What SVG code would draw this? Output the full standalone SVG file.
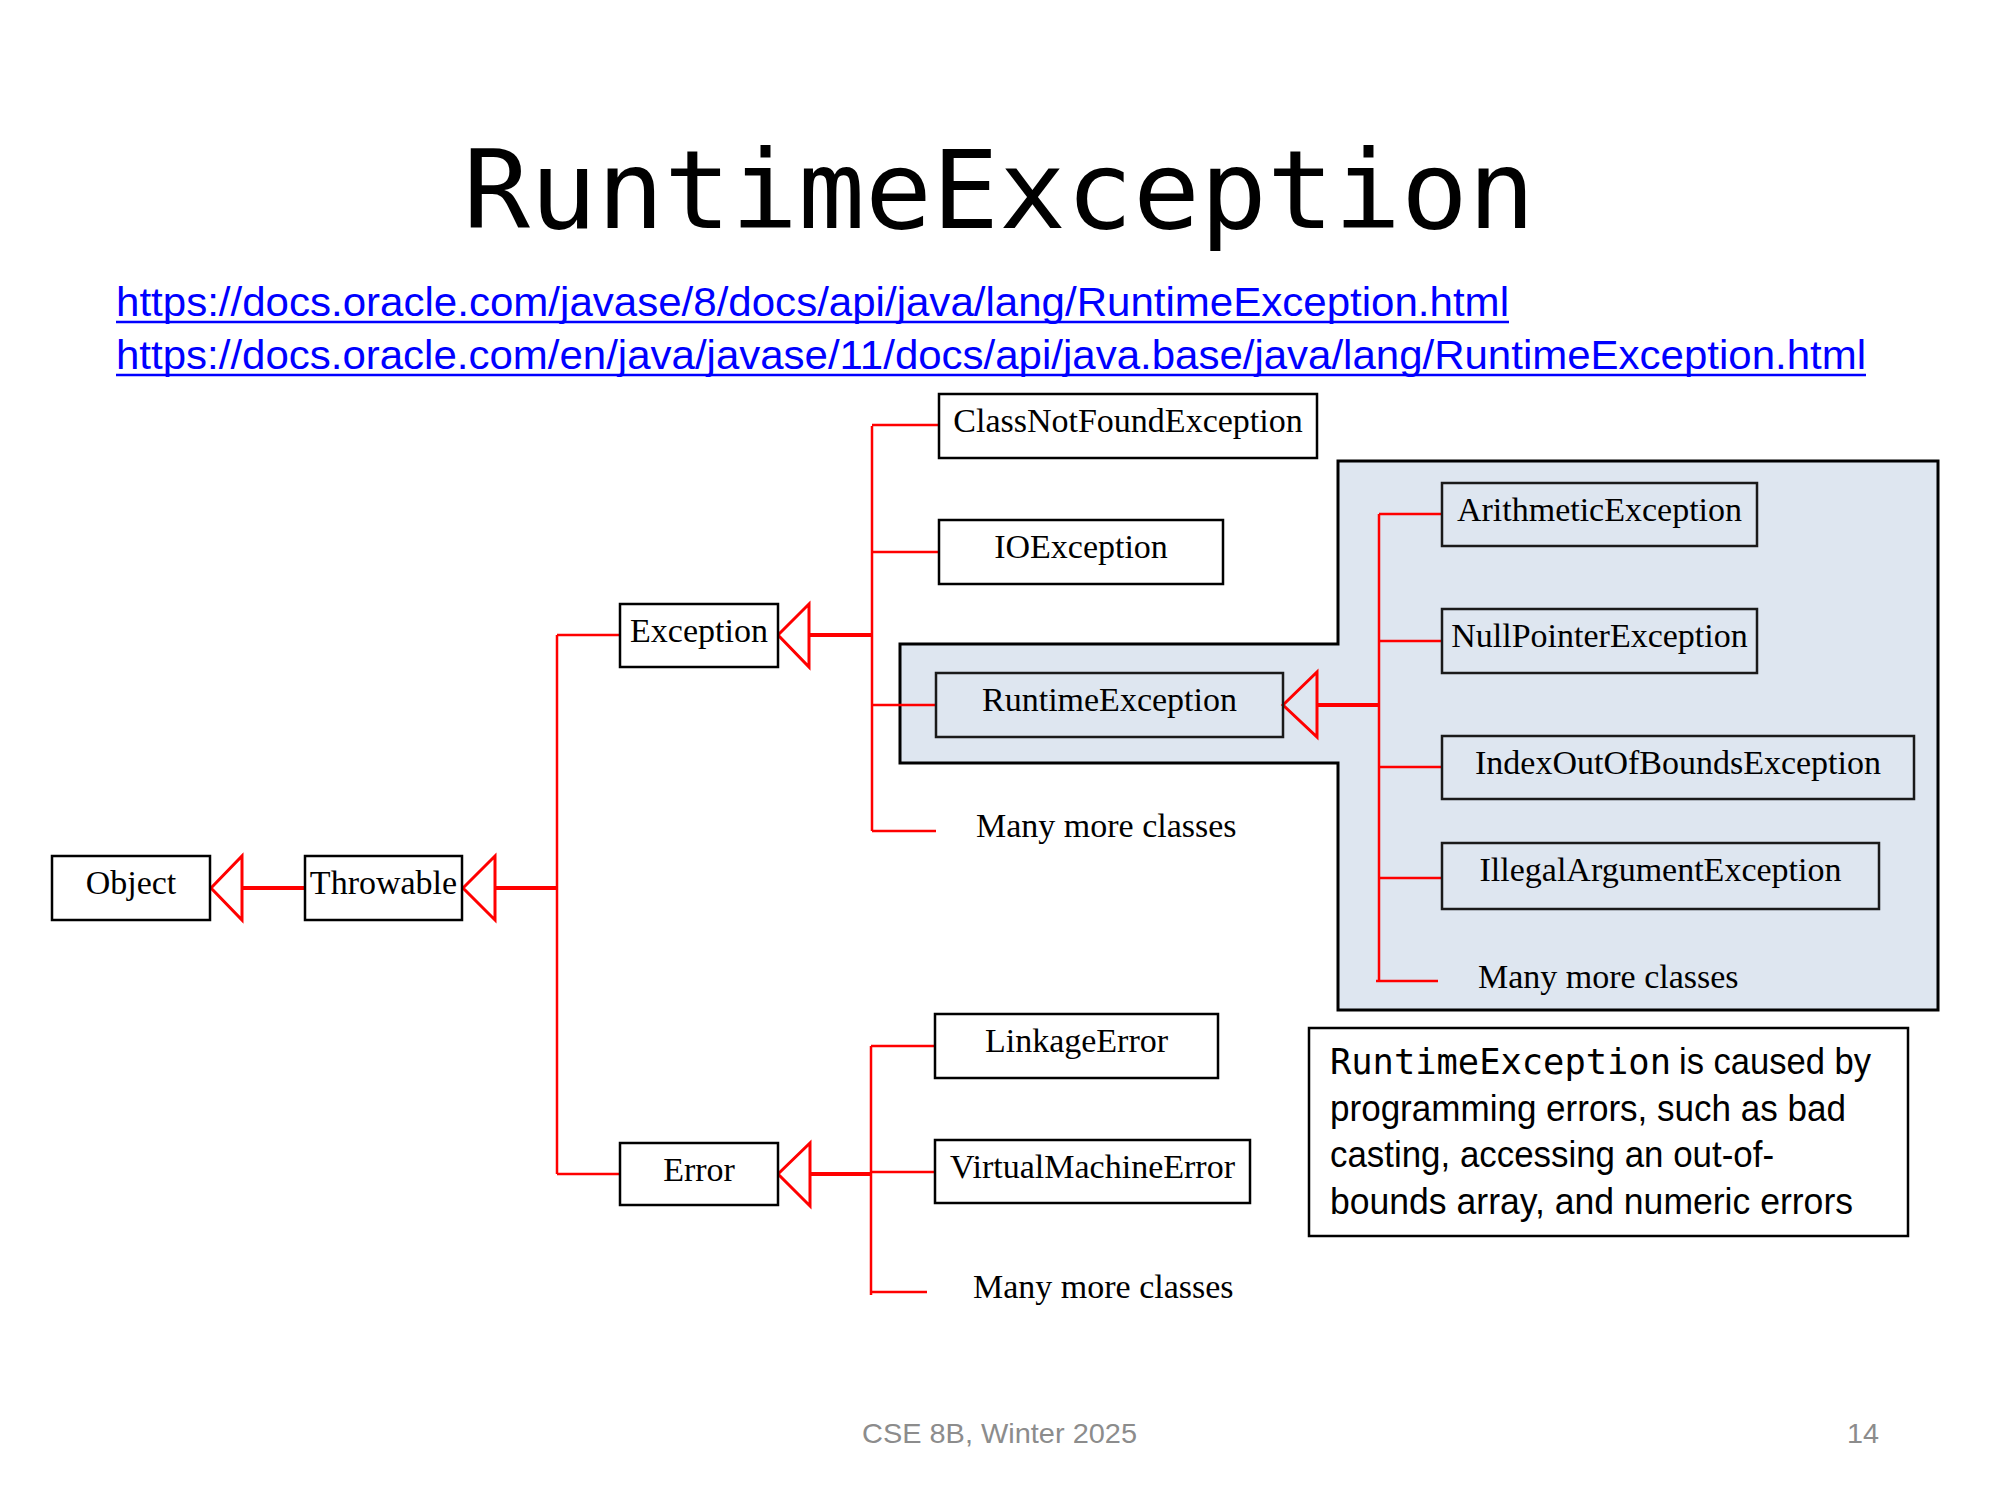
<svg xmlns="http://www.w3.org/2000/svg" width="2000" height="1500" viewBox="0 0 2000 1500">
<style>
.box{fill:#fff;stroke:#000;stroke-width:2.5}
.boxh{fill:none;stroke:#1a1a1a;stroke-width:2.5}
.lbl{font-family:"Liberation Serif","Times New Roman",serif;font-size:34px;fill:#000;text-anchor:middle}
.more{font-family:"Liberation Serif","Times New Roman",serif;font-size:34px;fill:#000}
.ln{stroke:#ff0000;stroke-width:2.5;fill:none}
.lnt{stroke:#ff0000;stroke-width:4;fill:none}
.tri{fill:none;stroke:#ff0000;stroke-width:3;stroke-linejoin:miter}
.link{font-family:"Liberation Sans",Arial,sans-serif;font-size:40px;fill:#0000ff}
.note{font-family:"Liberation Sans",Arial,sans-serif;font-size:36px;fill:#000}
.mono{font-family:"DejaVu Sans Mono","Liberation Mono",monospace}
.foot{font-family:"Liberation Sans",Arial,sans-serif;font-size:28px;fill:#8c8c8c}
</style>
<rect width="2000" height="1500" fill="#fff"/>
<text class="mono" x="463" y="228" font-size="109" textLength="1072" lengthAdjust="spacingAndGlyphs" fill="#000">RuntimeException</text>
<g id="links">
<text class="link" x="116" y="316" textLength="1393" lengthAdjust="spacingAndGlyphs">https://docs.oracle.com/javase/8/docs/api/java/lang/RuntimeException.html</text>
<line x1="116" y1="322" x2="1509" y2="322" stroke="#0000ff" stroke-width="2.5"/>
<text class="link" x="116" y="369" textLength="1750" lengthAdjust="spacingAndGlyphs">https://docs.oracle.com/en/java/javase/11/docs/api/java.base/java/lang/RuntimeException.html</text>
<line x1="116" y1="375" x2="1866" y2="375" stroke="#0000ff" stroke-width="2.5"/>
</g>
<g id="highlight">
<polygon points="900,644 1338,644 1338,461 1938,461 1938,1010 1338,1010 1338,763 900,763" fill="#dee6f0" stroke="#000" stroke-width="3"/>
</g>
<g id="connectors">
<polygon class="tri" points="211,888 242,856 242,920"/>
<line class="lnt" x1="242" y1="888" x2="305" y2="888"/>
<polygon class="tri" points="463,888 495,856 495,920"/>
<line class="lnt" x1="495" y1="888" x2="557" y2="888"/>
<line class="ln" x1="557" y1="635" x2="557" y2="1174"/>
<line class="ln" x1="557" y1="635" x2="620" y2="635"/>
<line class="ln" x1="557" y1="1174" x2="620" y2="1174"/>
<polygon class="tri" points="778,635 809,604 809,667"/>
<line class="lnt" x1="809" y1="635" x2="872" y2="635"/>
<line class="ln" x1="872" y1="426" x2="872" y2="831"/>
<line class="ln" x1="872" y1="425" x2="939" y2="425"/>
<line class="ln" x1="872" y1="552" x2="939" y2="552"/>
<line class="ln" x1="872" y1="705" x2="936" y2="705"/>
<line class="ln" x1="872" y1="831" x2="936" y2="831"/>
<polygon class="tri" points="1283,705 1317,672 1317,737"/>
<line class="lnt" x1="1317" y1="705" x2="1379" y2="705"/>
<line class="ln" x1="1379" y1="514" x2="1379" y2="982"/>
<line class="ln" x1="1379" y1="514" x2="1442" y2="514"/>
<line class="ln" x1="1379" y1="641" x2="1442" y2="641"/>
<line class="ln" x1="1379" y1="767" x2="1442" y2="767"/>
<line class="ln" x1="1379" y1="878" x2="1442" y2="878"/>
<line class="ln" x1="1376" y1="981" x2="1438" y2="981"/>
<polygon class="tri" points="778,1174 810,1143 810,1206"/>
<line class="lnt" x1="810" y1="1174" x2="871" y2="1174"/>
<line class="ln" x1="871" y1="1046" x2="871" y2="1295"/>
<line class="ln" x1="871" y1="1046" x2="935" y2="1046"/>
<line class="ln" x1="871" y1="1172" x2="935" y2="1172"/>
<line class="ln" x1="871" y1="1292" x2="927" y2="1292"/>
</g>
<g id="object"><rect class="box" x="52" y="856" width="158" height="64"/><text class="lbl" x="131" y="894">Object</text></g>
<g id="throwable"><rect class="box" x="305" y="856" width="157" height="64"/><text class="lbl" x="383.5" y="894">Throwable</text></g>
<g id="exception"><rect class="box" x="620" y="604" width="158" height="63"/><text class="lbl" x="699" y="642">Exception</text></g>
<g id="classnotfound"><rect class="box" x="939" y="394" width="378" height="64"/><text class="lbl" x="1128" y="432">ClassNotFoundException</text></g>
<g id="ioexception"><rect class="box" x="939" y="520" width="284" height="64"/><text class="lbl" x="1081" y="558">IOException</text></g>
<g id="more-exception"><text class="more" x="976" y="837">Many more classes</text></g>
<g id="runtime"><rect class="boxh" x="936" y="673" width="347" height="64"/><text class="lbl" x="1109.5" y="711">RuntimeException</text></g>
<g id="arithmetic"><rect class="boxh" x="1442" y="483" width="315" height="63"/><text class="lbl" x="1599.5" y="521">ArithmeticException</text></g>
<g id="nullpointer"><rect class="boxh" x="1442" y="609" width="315" height="64"/><text class="lbl" x="1599.5" y="647">NullPointerException</text></g>
<g id="indexoutofbounds"><rect class="boxh" x="1442" y="736" width="472" height="63"/><text class="lbl" x="1678" y="774">IndexOutOfBoundsException</text></g>
<g id="illegalargument"><rect class="boxh" x="1442" y="843" width="437" height="66"/><text class="lbl" x="1660.5" y="881">IllegalArgumentException</text></g>
<g id="more-runtime"><text class="more" x="1478" y="988">Many more classes</text></g>
<g id="error"><rect class="box" x="620" y="1143" width="158" height="62"/><text class="lbl" x="699" y="1181">Error</text></g>
<g id="linkage"><rect class="box" x="935" y="1014" width="283" height="64"/><text class="lbl" x="1076.5" y="1052">LinkageError</text></g>
<g id="vm"><rect class="box" x="935" y="1140" width="315" height="63"/><text class="lbl" x="1092.5" y="1178">VirtualMachineError</text></g>
<g id="more-error"><text class="more" x="973" y="1298">Many more classes</text></g>
<g id="note">
<rect x="1309" y="1028" width="599" height="208" fill="#fff" stroke="#000" stroke-width="2.5"/>
<text class="mono" x="1330" y="1074" font-size="35" textLength="341" lengthAdjust="spacingAndGlyphs">RuntimeException</text>
<text class="note" x="1679" y="1074" textLength="192" lengthAdjust="spacingAndGlyphs">is caused by</text>
<text class="note" x="1330" y="1121" textLength="516" lengthAdjust="spacingAndGlyphs">programming errors, such as bad</text>
<text class="note" x="1330" y="1167" textLength="444" lengthAdjust="spacingAndGlyphs">casting, accessing an out-of-</text>
<text class="note" x="1330" y="1214" textLength="523" lengthAdjust="spacingAndGlyphs">bounds array, and numeric errors</text>
</g>
<g id="footer">
<text class="foot" x="862" y="1443" textLength="275" lengthAdjust="spacingAndGlyphs">CSE 8B, Winter 2025</text>
<text class="foot" x="1847" y="1443" textLength="32" lengthAdjust="spacingAndGlyphs">14</text>
</g>
</svg>
